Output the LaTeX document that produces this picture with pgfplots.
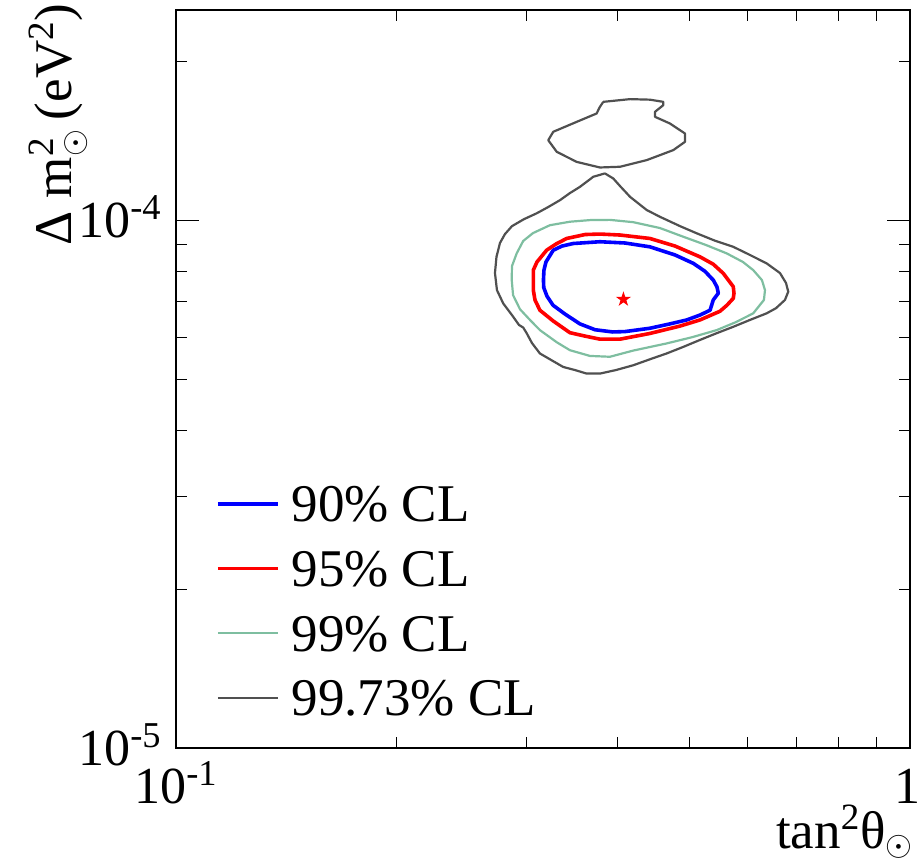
\documentclass[border=0pt]{standalone}
\usepackage{fontspec}
\setmainfont{Liberation Serif}
\usepackage{amsmath}
\usepackage{pgfplots}
\pgfplotsset{compat=1.18}

\definecolor{cl90}{RGB}{0,0,255}
\definecolor{cl95}{RGB}{255,0,0}
\definecolor{cl99}{RGB}{126,190,160}
\definecolor{cl9973}{RGB}{80,80,80}

% filled five-pointed star for the best fit point
\pgfdeclareplotmark{fstar}{%
  \pgfpathmoveto{\pgfpointpolar{90}{4pt}}%
  \pgfpathlineto{\pgfpointpolar{126}{1.53pt}}%
  \pgfpathlineto{\pgfpointpolar{162}{4pt}}%
  \pgfpathlineto{\pgfpointpolar{198}{1.53pt}}%
  \pgfpathlineto{\pgfpointpolar{234}{4pt}}%
  \pgfpathlineto{\pgfpointpolar{270}{1.53pt}}%
  \pgfpathlineto{\pgfpointpolar{306}{4pt}}%
  \pgfpathlineto{\pgfpointpolar{342}{1.53pt}}%
  \pgfpathlineto{\pgfpointpolar{18}{4pt}}%
  \pgfpathlineto{\pgfpointpolar{54}{1.53pt}}%
  \pgfpathclose
  \pgfusepathqfill
}

\begin{document}
\begin{tikzpicture}
\begin{axis}[
  scale only axis, width=367pt, height=369pt,
  xmode=log, ymode=log,
  xmin=0.1, xmax=1, ymin=1e-5, ymax=2.5e-4,
  axis line style={line width=0.6pt},
  tick align=inside, tick pos=both,
  every tick/.style={black, line width=0.5pt},
  major tick length=11.5pt, minor tick length=5.5pt,
  xtick={0.1,1}, xticklabels={10\textsuperscript{-1},1\kern3pt},
  minor xtick={0.2,0.3,0.4,0.5,0.6,0.7,0.8,0.9},
  ytick={1e-5,1e-4}, yticklabels={10\textsuperscript{-5},10\textsuperscript{-4}},
  minor ytick={2e-5,3e-5,4e-5,5e-5,6e-5,7e-5,8e-5,9e-5,2e-4},
  tick label style={font=\fontsize{26}{30}\selectfont, inner sep=0pt,
    text height=17.6pt, text depth=0pt},
  xticklabel style={anchor=north, yshift=-10pt},
  yticklabel style={anchor=east, xshift=-7pt},
  label style={font=\fontsize{26.5}{30}\selectfont, inner sep=0pt},
  xlabel={tan\textsuperscript{2}θ$_{\odot}$},
  xlabel style={at={(axis description cs:1,0)}, anchor=base east,
    xshift=2pt, yshift=-50pt},
  ylabel={Δ m$^{\text{2}}_{\odot}$\,(eV\textsuperscript{2})},
  ylabel style={at={(axis description cs:-0.1417,1.0095)}, anchor=base east},
  legend cell align=left,
  legend image code/.code={\draw[#1] (0pt,0pt) -- (30pt,0pt);},
  legend style={draw=none, fill=none, inner sep=0pt, outer sep=0pt,
    at={(axis description cs:0.0545,0.355)}, anchor=north west,
    row sep=14.4pt, column sep=6pt,
    font=\fontsize{26.5}{30}\selectfont,
    nodes={inner sep=0pt, text height=17.9pt, text depth=0pt}},
  every axis plot/.append style={line join=round},
]

% 90% CL
\addplot[cl90, line width=1.8pt, mark=none] coordinates {
  (0.3167,7.70e-5) (0.3172,8.04e-5) (0.3192,8.33e-5) (0.3266,8.77e-5)
  (0.3357,8.93e-5) (0.3477,9.03e-5) (0.3781,9.10e-5) (0.4090,9.05e-5)
  (0.4423,8.90e-5) (0.4785,8.59e-5) (0.5068,8.28e-5) (0.5256,8.00e-5)
  (0.5395,7.70e-5) (0.5459,7.47e-5) (0.5481,7.27e-5) (0.5395,7.06e-5)
  (0.5341,6.75e-5) (0.5175,6.61e-5) (0.4964,6.47e-5) (0.4710,6.36e-5)
  (0.4423,6.24e-5) (0.4090,6.15e-5) (0.3936,6.14e-5) (0.3723,6.20e-5)
  (0.3551,6.36e-5) (0.3388,6.64e-5) (0.3263,6.90e-5) (0.3202,7.18e-5)
  (0.3170,7.45e-5) (0.3167,7.70e-5)
};
\addlegendentry{90\% CL}

% 95% CL
\addplot[cl95, line width=1.8pt, mark=none] coordinates {
  (0.3068,7.70e-5) (0.3068,8.04e-5) (0.3103,8.33e-5) (0.3199,8.77e-5)
  (0.3294,9.01e-5) (0.3406,9.23e-5) (0.3608,9.39e-5) (0.3781,9.41e-5)
  (0.4027,9.37e-5) (0.4423,9.23e-5) (0.4785,8.93e-5) (0.5175,8.52e-5)
  (0.5395,8.25e-5) (0.5567,7.93e-5) (0.5745,7.48e-5) (0.5757,7.27e-5)
  (0.5745,7.11e-5) (0.5632,6.90e-5) (0.5510,6.72e-5) (0.5175,6.47e-5)
  (0.4861,6.30e-5) (0.4423,6.10e-5) (0.4027,5.95e-5) (0.3781,5.95e-5)
  (0.3608,6.03e-5) (0.3441,6.12e-5) (0.3266,6.44e-5) (0.3132,6.75e-5)
  (0.3084,7.06e-5) (0.3068,7.37e-5) (0.3068,7.70e-5)
};
\addlegendentry{95\% CL}

% 99% CL
\addplot[cl99, line width=1.1pt, mark=none] coordinates {
  (0.2867,7.70e-5) (0.2869,8.18e-5) (0.2912,8.65e-5) (0.2972,9.13e-5)
  (0.3065,9.45e-5) (0.3232,9.78e-5) (0.3441,9.93e-5) (0.3664,1.000e-4)
  (0.3902,1.001e-4) (0.4198,9.91e-5) (0.4564,9.66e-5) (0.4911,9.30e-5)
  (0.5274,8.97e-5) (0.5627,8.65e-5) (0.5922,8.33e-5) (0.6116,8.04e-5)
  (0.6285,7.70e-5) (0.6345,7.37e-5) (0.6325,7.06e-5) (0.6116,6.66e-5)
  (0.5793,6.41e-5) (0.5454,6.19e-5) (0.5047,6.00e-5) (0.4661,5.84e-5)
  (0.4195,5.66e-5) (0.3902,5.51e-5) (0.3664,5.53e-5) (0.3441,5.67e-5)
  (0.3302,5.87e-5) (0.3132,6.19e-5) (0.3036,6.47e-5) (0.2942,6.78e-5)
  (0.2879,7.21e-5) (0.2867,7.70e-5)
};
\addlegendentry{99\% CL}

% 99.73% CL, main region
\addplot[cl9973, line width=1.1pt, mark=none] coordinates {
  (0.3841,1.226e-4) (0.3943,1.199e-4) (0.4027,1.160e-4) (0.4155,1.107e-4)
  (0.4378,1.045e-4) (0.4564,1.0145e-4) (0.4861,9.74e-5) (0.5122,9.44e-5)
  (0.5425,9.14e-5) (0.5745,8.90e-5) (0.6053,8.59e-5) (0.6379,8.28e-5)
  (0.6651,7.94e-5) (0.6778,7.60e-5) (0.6826,7.32e-5) (0.6756,7.06e-5)
  (0.6568,6.81e-5) (0.6379,6.66e-5) (0.6053,6.47e-5) (0.5745,6.28e-5)
  (0.5442,6.10e-5) (0.5175,5.93e-5) (0.4907,5.75e-5) (0.4661,5.59e-5)
  (0.4423,5.45e-5) (0.4198,5.31e-5) (0.3977,5.20e-5) (0.3781,5.12e-5)
  (0.3627,5.12e-5) (0.3496,5.20e-5) (0.3370,5.27e-5) (0.3232,5.45e-5)
  (0.3132,5.59e-5) (0.3055,5.85e-5) (0.3004,6.11e-5) (0.2972,6.26e-5)
  (0.2933,6.33e-5) (0.2869,6.61e-5) (0.2792,6.95e-5) (0.2737,7.37e-5)
  (0.2720,7.94e-5) (0.2733,8.52e-5) (0.2763,9.05e-5) (0.2807,9.41e-5)
  (0.2869,9.74e-5) (0.2979,1.004e-4) (0.3100,1.030e-4) (0.3212,1.058e-4)
  (0.3336,1.091e-4) (0.3441,1.125e-4) (0.3551,1.156e-4) (0.3703,1.208e-4)
  (0.3841,1.226e-4)
};
\addlegendentry{99.73\% CL}

% 99.73% CL, upper island
\addplot[cl9973, line width=1.1pt, mark=none, forget plot] coordinates {
  (0.3821,1.675e-4) (0.4155,1.695e-4) (0.4423,1.691e-4) (0.4612,1.675e-4)
  (0.4612,1.651e-4) (0.4494,1.604e-4) (0.4494,1.569e-4) (0.4710,1.524e-4)
  (0.4937,1.459e-4) (0.4937,1.407e-4) (0.4759,1.357e-4) (0.4378,1.299e-4)
  (0.4027,1.262e-4) (0.3781,1.258e-4) (0.3515,1.289e-4) (0.3302,1.347e-4)
  (0.3215,1.417e-4) (0.3266,1.470e-4) (0.3515,1.535e-4) (0.3742,1.592e-4)
  (0.3781,1.639e-4) (0.3821,1.675e-4)
};

% best fit
\addplot[only marks, mark=fstar, red, forget plot] coordinates {(0.407,7.08e-5)};

\end{axis}
\pgfresetboundingbox
\path[use as bounding box] ([shift={(-88pt,-59.5pt)}]current axis.south west)
  rectangle ([shift={(4.5pt,5pt)}]current axis.north east);
\end{tikzpicture}
\end{document}
